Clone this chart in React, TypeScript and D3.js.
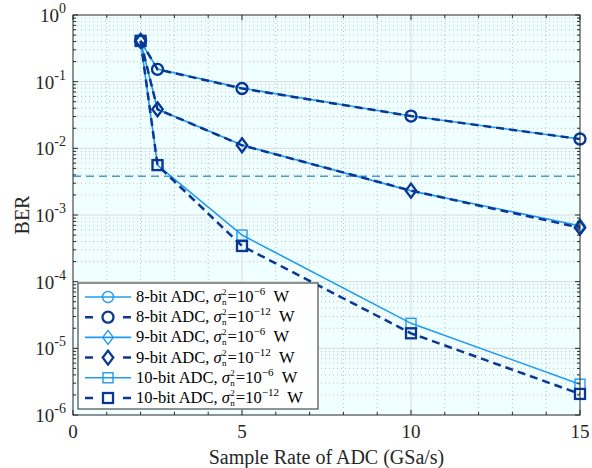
import React, { useEffect, useRef } from "react";
import * as d3 from "d3";

const rates = [2, 2.5, 5, 10, 15];
const ber8a = [0.4, 0.155, 0.08, 0.0305, 0.0138];
const ber8b = [0.41, 0.153, 0.079, 0.0305, 0.0138];
const ber9a = [0.4, 0.0385, 0.0112, 0.0023, 0.00069];
const ber9b = [0.41, 0.0385, 0.0111, 0.00232, 0.000645];
const ber10a = [0.4, 0.0056, 0.0005, 0.0000237, 0.0000029];
const ber10b = [0.41, 0.0056, 0.000343, 0.0000168, 0.00000207];
const threshold = 0.0038;
const xTicks = [0, 5, 10, 15];
const yExps = [0, -1, -2, -3, -4, -5, -6];

const series = [
  { bits: "8", noise: "−6", vals: ber8a, marker: "circle", dark: false },
  { bits: "8", noise: "−12", vals: ber8b, marker: "circle", dark: true },
  { bits: "9", noise: "−6", vals: ber9a, marker: "diamond", dark: false },
  { bits: "9", noise: "−12", vals: ber9b, marker: "diamond", dark: true },
  { bits: "10", noise: "−6", vals: ber10a, marker: "square", dark: false },
  { bits: "10", noise: "−12", vals: ber10b, marker: "square", dark: true },
];

const LIGHT = "#1e9bf5";
const DARK = "#0a3796";
const AXIS = "#262626";
const FONT = "'Liberation Serif', 'Times New Roman', Times, serif";

const W = 592, H = 468;
const m = { left: 73, right: 12, top: 15, bottom: 53 };

const drawMarker = (g, kind, x, y, color, sw) => {
  if (kind === "circle") {
    g.append("circle").attr("cx", x).attr("cy", y).attr("r", 5.5)
      .attr("fill", "none").attr("stroke", color).attr("stroke-width", sw);
  } else if (kind === "diamond") {
    const s = 7;
    g.append("path").attr("d", `M${x},${y - s}L${x + s * 0.75},${y}L${x},${y + s}L${x - s * 0.75},${y}Z`)
      .attr("fill", "none").attr("stroke", color).attr("stroke-width", sw);
  } else {
    const s = 5;
    g.append("rect").attr("x", x - s).attr("y", y - s).attr("width", 2 * s).attr("height", 2 * s)
      .attr("fill", "none").attr("stroke", color).attr("stroke-width", sw);
  }
};

const App = () => {
  const ref = useRef(null);

  useEffect(() => {
    const svg = d3.select(ref.current);
    svg.selectAll("*").remove();

    const x = d3.scaleLinear().domain([0, 15]).range([m.left, W - m.right]);
    const y = d3.scaleLog().domain([1e-6, 1]).range([H - m.bottom, m.top]);
    const [x0, x1] = x.range();
    const [y1, y0] = y.range();

    svg.append("rect").attr("x", x0).attr("y", y0).attr("width", x1 - x0).attr("height", y1 - y0)
      .attr("fill", "#f0ffff");

    const grid = svg.append("g");
    // minor grid
    d3.range(0, 16).filter((v) => v % 5 !== 0).forEach((v) => {
      grid.append("line").attr("x1", x(v)).attr("x2", x(v)).attr("y1", y0).attr("y2", y1)
        .attr("stroke", "#b8c2c8").attr("stroke-width", 1).attr("stroke-dasharray", "1,3");
    });
    yExps.slice(1).forEach((e) => {
      for (let k = 2; k <= 9; k++) {
        const v = k * Math.pow(10, e);
        grid.append("line").attr("x1", x0).attr("x2", x1).attr("y1", y(v)).attr("y2", y(v))
          .attr("stroke", "#b8c2c8").attr("stroke-width", 1).attr("stroke-dasharray", "1,3");
      }
    });
    // major grid
    xTicks.slice(1, -1).forEach((v) => {
      grid.append("line").attr("x1", x(v)).attr("x2", x(v)).attr("y1", y0).attr("y2", y1)
        .attr("stroke", "#d8dcdc").attr("stroke-width", 1);
    });
    yExps.slice(1, -1).forEach((e) => {
      const v = Math.pow(10, e);
      grid.append("line").attr("x1", x0).attr("x2", x1).attr("y1", y(v)).attr("y2", y(v))
        .attr("stroke", "#d8dcdc").attr("stroke-width", 1);
    });

    // threshold
    svg.append("line").attr("x1", x0).attr("x2", x1).attr("y1", y(threshold)).attr("y2", y(threshold))
      .attr("stroke", "#4a9ad8").attr("stroke-width", 1.5).attr("stroke-dasharray", "8,5");

    const line = d3.line().x((d) => x(d[0])).y((d) => y(d[1]));
    const plot = svg.append("g");
    series.forEach((s) => {
      const pts = rates.map((r, i) => [r, s.vals[i]]);
      const color = s.dark ? DARK : LIGHT;
      plot.append("path").attr("d", line(pts)).attr("fill", "none").attr("stroke", color)
        .attr("stroke-width", s.dark ? 2.5 : 1.6)
        .attr("stroke-dasharray", s.dark ? "8,5" : null);
      pts.forEach((p) => drawMarker(plot, s.marker, x(p[0]), y(p[1]), color, s.dark ? 2.3 : 1.4));
    });

    // axes box & ticks
    const ax = svg.append("g").attr("stroke", AXIS).attr("stroke-width", 1);
    ax.append("rect").attr("x", x0).attr("y", y0).attr("width", x1 - x0).attr("height", y1 - y0)
      .attr("fill", "none");
    d3.range(0, 16).forEach((v) => {
      const len = v % 5 === 0 ? 5 : 3;
      ax.append("line").attr("x1", x(v)).attr("x2", x(v)).attr("y1", y1).attr("y2", y1 - len);
      ax.append("line").attr("x1", x(v)).attr("x2", x(v)).attr("y1", y0).attr("y2", y0 + len);
    });
    yExps.forEach((e) => {
      const v = Math.pow(10, e);
      [[x0, 1], [x1, -1]].forEach(([xx, dir]) => {
        ax.append("line").attr("x1", xx).attr("x2", xx + dir * 5).attr("y1", y(v)).attr("y2", y(v));
        if (e > -6) {
          for (let k = 2; k <= 9; k++) {
            const yy = y(k * Math.pow(10, e - 1));
            ax.append("line").attr("x1", xx).attr("x2", xx + dir * 3).attr("y1", yy).attr("y2", yy);
          }
        }
      });
    });

    const txt = svg.append("g").style("font-family", FONT).attr("fill", AXIS);
    xTicks.forEach((v) => {
      txt.append("text").attr("x", x(v)).attr("y", y1 + 23).attr("text-anchor", "middle")
        .attr("font-size", 19).text(v);
    });
    yExps.forEach((e) => {
      const t = txt.append("text").attr("x", x0 - 7).attr("y", y(Math.pow(10, e)) + 7)
        .attr("text-anchor", "end").attr("font-size", 19);
      t.append("tspan").text("10");
      t.append("tspan").attr("font-size", 14).attr("dy", -9).text(e === 0 ? "0" : `-${-e}`);
    });
    txt.append("text").attr("x", (x0 + x1) / 2).attr("y", H - 4).attr("text-anchor", "middle")
      .attr("font-size", 20).text("Sample Rate of ADC (GSa/s)");
    txt.append("text").attr("transform", `translate(29,${(y0 + y1) / 2}) rotate(-90)`)
      .attr("text-anchor", "middle").attr("font-size", 20).text("BER");

    // legend
    const lg = svg.append("g");
    const lx = 78, ly = 283, lw = 240, lh = 126;
    lg.append("rect").attr("x", lx).attr("y", ly).attr("width", lw).attr("height", lh)
      .attr("fill", "white").attr("stroke", AXIS).attr("stroke-width", 1);
    series.forEach((s, i) => {
      const cy = ly + 14 + i * 20.2;
      const color = s.dark ? DARK : LIGHT;
      lg.append("line").attr("x1", lx + 7).attr("x2", lx + 53).attr("y1", cy).attr("y2", cy)
        .attr("stroke", color).attr("stroke-width", s.dark ? 2.5 : 1.6)
        .attr("stroke-dasharray", s.dark ? "8,30" : null);
      drawMarker(lg, s.marker, lx + 30, cy, color, s.dark ? 2.3 : 1.4);
      const tx = lx + 58;
      const head = lg.append("text").attr("x", tx).attr("y", cy + 5)
        .style("font-family", FONT).attr("font-size", 16.5).attr("fill", "#000");
      head.append("tspan").text(`${s.bits}-bit ADC, `);
      head.append("tspan").attr("font-style", "italic").text("σ");
      const hw = head.node().getComputedTextLength();
      lg.append("text").attr("x", tx + hw + 0.5).attr("y", cy - 2.1)
        .style("font-family", FONT).attr("font-size", 9).attr("fill", "#000").text("2");
      lg.append("text").attr("x", tx + hw + 0.5).attr("y", cy + 8)
        .style("font-family", FONT).attr("font-size", 9).attr("fill", "#000").text("n");
      const tail = lg.append("text").attr("x", tx + hw + 6).attr("y", cy + 5)
        .style("font-family", FONT).attr("font-size", 16.5).attr("fill", "#000");
      tail.append("tspan").text("=10");
      tail.append("tspan").attr("font-size", 11).attr("dy", -7).text(s.noise);
      tail.append("tspan").attr("dy", 7).text("\u00a0\u00a0W");
    });
  }, []);

  return (
    <svg ref={ref} width={W} height={H}
      style={{ position: "absolute", left: 0, top: 0, background: "white" }} />
  );
};

export default App;
